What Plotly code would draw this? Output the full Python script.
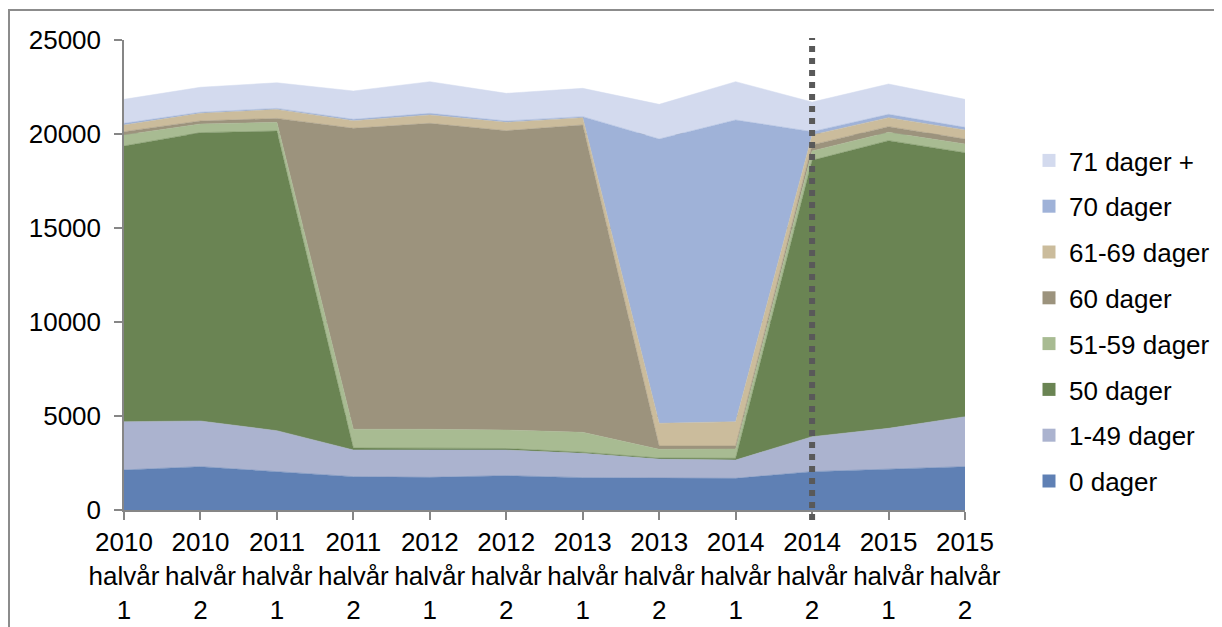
import plotly.graph_objects as go

categories = ["2010<br>halvår<br>1", "2010<br>halvår<br>2", "2011<br>halvår<br>1", "2011<br>halvår<br>2",
              "2012<br>halvår<br>1", "2012<br>halvår<br>2", "2013<br>halvår<br>1", "2013<br>halvår<br>2",
              "2014<br>halvår<br>1", "2014<br>halvår<br>2", "2015<br>halvår<br>1", "2015<br>halvår<br>2"]

d0 = [2128, 2305, 2039, 1773, 1738, 1826, 1720, 1702, 1684, 2039, 2181, 2305]
d1_49 = [2570, 2430, 2180, 1420, 1453, 1365, 1294, 1011, 976, 1861, 2163, 2659]
d50 = [14664, 15337, 15940, 100, 100, 80, 60, 50, 90, 14700, 15301, 14042]
d51_59 = [585, 461, 460, 1000, 1000, 984, 1057, 464, 495, 500, 444, 462]
d60 = [177, 160, 210, 16011, 16277, 15921, 16348, 177, 160, 320, 301, 266]
d61_69 = [355, 410, 480, 407, 443, 445, 390, 1206, 1294, 530, 479, 479]
d70 = [90, 53, 53, 71, 89, 70, 53, 15124, 16047, 174, 178, 142]
d71 = [1275, 1330, 1364, 1507, 1682, 1472, 1508, 1843, 2037, 1576, 1612, 1488]

names = ["0 dager", "1-49 dager", "50 dager", "51-59 dager", "60 dager", "61-69 dager", "70 dager", "71 dager +"]
series = [d0, d1_49, d50, d51_59, d60, d61_69, d70, d71]
colors = ["#5F80B4", "#ABB3CF", "#6A8453", "#A8BB92", "#9C937D", "#CBBC9C", "#9FB2D8", "#D3DAEE"]
marker_line = 9  # index of the dashed marker category (2014 halvår 2)

FONT = "Liberation Sans, Arial, sans-serif"
x = list(range(len(categories)))

fig = go.Figure()
for nm, vals, col in zip(names, series, colors):
    fig.add_trace(go.Scatter(x=x, y=vals, name=nm, stackgroup="one", mode="lines",
                             line=dict(width=0.5, color=col), fillcolor=col,
                             showlegend=False, hoverinfo="x+y+name"))
# legend entries, top to bottom: 71 dager + ... 0 dager
for i, (nm, col) in enumerate(zip(names[::-1], colors[::-1])):
    fig.add_trace(go.Scatter(x=[None], y=[None], name=nm, mode="markers",
                             marker=dict(symbol="square", size=13, color=col),
                             legendgroup="g%d" % i, showlegend=True))

OFF = 8  # page body margin
W, H = 1222 - OFF, 627 - OFF
L, R, T, B = 124 - OFF, 965 - OFF, 40 - OFF, 510 - OFF
pw, ph = R - L, B - T

def px(xp):
    return (xp - OFF - L) / pw

def py(yp):
    return (B - (yp - OFF)) / ph

fig.add_shape(type="line", xref="x", yref="paper", x0=marker_line, x1=marker_line,
              y0=py(520), y1=py(38), line=dict(color="#595959", width=6, dash="6px,6px"))
fig.add_shape(type="rect", xref="paper", yref="paper", x0=px(9), y0=py(640), x1=px(1240), y1=py(10),
              line=dict(color="#8C8C8C", width=2), fillcolor="rgba(0,0,0,0)", layer="below")

fig.update_layout(
    width=W, height=H,
    margin=dict(l=L, r=W - R, t=T, b=H - B, autoexpand=False),
    paper_bgcolor="white", plot_bgcolor="white",
    font=dict(family=FONT, size=26, color="black"),
    showlegend=True,
    legend=dict(traceorder="grouped", tracegroupgap=9, x=px(1029), xanchor="left",
                y=py(137), yanchor="top", font=dict(size=26), bgcolor="rgba(0,0,0,0)",
                itemwidth=30),
    xaxis=dict(range=[0, 11], tickmode="array", tickvals=x, ticktext=categories, tickangle=0,
               showgrid=False, showline=True, linecolor="#868686", linewidth=1.5,
               ticks="outside", ticklen=8, tickcolor="#868686", tickwidth=1.5,
               tickfont=dict(size=26), zeroline=False, automargin=False),
    yaxis=dict(range=[0, 25000], dtick=5000, tickformat="d", showgrid=True, gridcolor="#868686",
               gridwidth=1.5, showline=True, linecolor="#868686", linewidth=1.5,
               ticks="outside", ticklen=8, tickcolor="#868686", tickwidth=1.5,
               ticklabelstandoff=8, tickfont=dict(size=26), zeroline=False, automargin=False),
)

fig.write_html("out.html")
